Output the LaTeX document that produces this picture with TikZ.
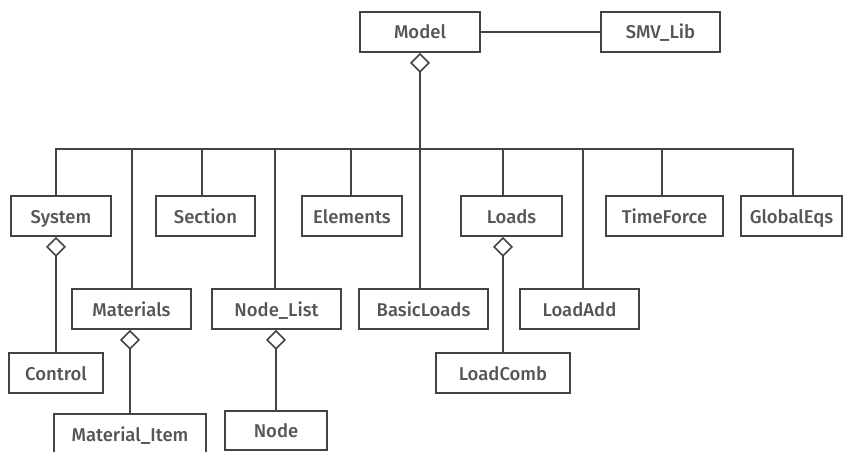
\documentclass[tikz,border=0pt]{standalone}
\usepackage{fontspec}
\setmainfont{Fira Sans}[UprightFont=* Medium]
\usepackage{tikz}
\usetikzlibrary{arrows.meta}
\definecolor{UmlLine}{RGB}{68,68,68}
\definecolor{UmlText}{RGB}{85,85,85}

\begin{document}
\begin{tikzpicture}[x=1pt,y=-1pt,line width=1.8pt,draw=UmlLine,
  cls/.style={draw=UmlLine,text=UmlText,font=\fontsize{18.5}{22}\selectfont,minimum width=#1pt,minimum height=40pt,inner sep=0pt,text height=14pt,text depth=0pt},
  agg/.style={{Diamond[open,length=20pt,width=20pt,line width=1.6pt]}-}]
\useasboundingbox (0,0) rectangle (844,452);
% top level
\node[cls=120](model) at(420,32) {Model};
\node[cls=119](smvlib) at(660.5,32) {SMV\_Lib};
\draw (model.east) -- (smvlib.west);
% first row
\foreach \n/\x/\w/\t in %
{system/61/100/System,section/205.5/99/Section,elements/352/100/Elements,
 loads/511.5/101/Loads,timeforce/664.5/117/TimeForce,globaleqs/791.5/101/GlobalEqs} {
   \node[cls=\w](\n) at(\x,216) {\t};
}
% second row
\foreach \n/\x/\w/\t in %
{materials/131.5/119/Materials,nodelist/276.5/129/Node\_List,
 basicloads/423.5/129/BasicLoads,loadadd/579.5/119/LoadAdd} {
   \node[cls=\w](\n) at(\x,309) {\t};
}
% leaves
\node[cls=94](control) at(56,373) {Control};
\node[cls=134](loadcomb) at(503,373) {LoadComb};
\node[cls=152](matitem) at(130,434) {Material\_Item};
\node[cls=102,minimum height=39pt](node) at(276,430.5) {Node};
% aggregation from Model
\coordinate (bus) at(420,149);
\draw[agg] (model.south) -- (bus) -- (basicloads.north -| bus);
\draw (bus) -| (system.north -| control.north);
\draw (bus) -| (loads.north -| loadcomb.north);
\foreach \n/\dx in %
{materials/0.5,section/-3.5,nodelist/-1.5,elements/-1,loadadd/3.5,timeforce/-2.5,globaleqs/1.5} {
   \draw (bus) -| ([xshift=\dx pt]\n.north);
}
% sub aggregations
\draw[agg] (system.south -| control.north) -- (control.north);
\draw[agg] (materials.south -| matitem.north) -- (matitem.north);
\draw[agg] (nodelist.south -| node.north) -- (node.north);
\draw[agg] (loads.south -| loadcomb.north) -- (loadcomb.north);
\end{tikzpicture}
\end{document}
